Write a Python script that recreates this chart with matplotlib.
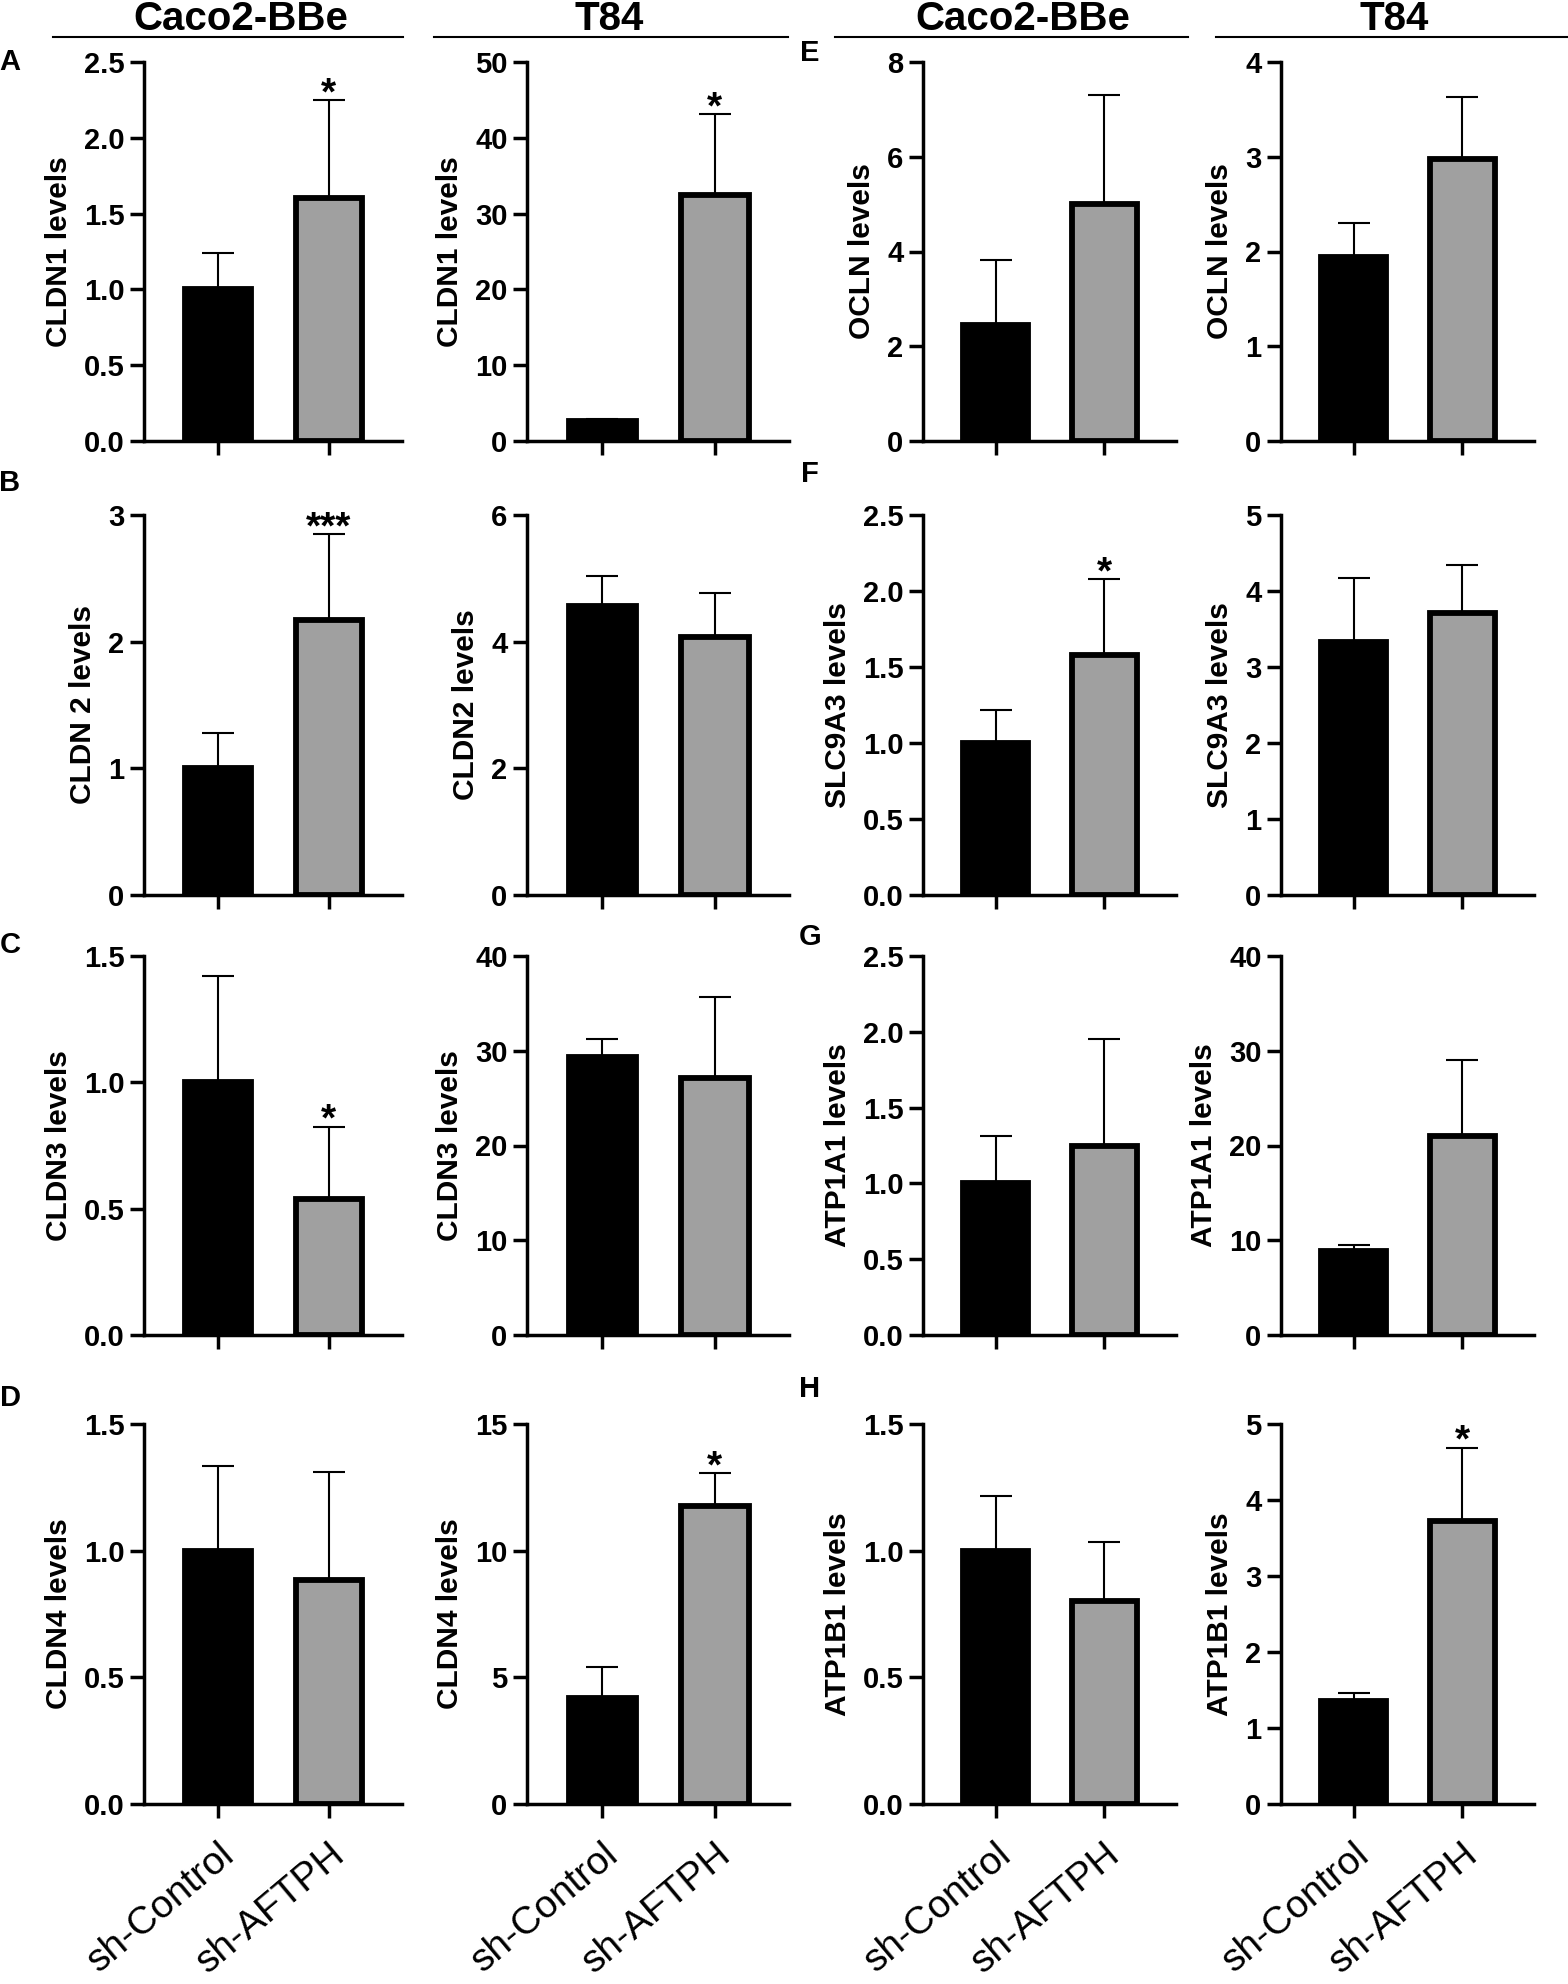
import numpy as np
import matplotlib.pyplot as plt
from matplotlib.lines import Line2D
from matplotlib.transforms import ScaledTranslation

plt.rcParams['font.family'] = ['Liberation Sans', 'DejaVu Sans']

# Группы и клеточные линии
groups = ['sh-Control', 'sh-AFTPH']
cell_lines = ['Caco2-BBe', 'T84', 'Caco2-BBe', 'T84']
panel_letters = ['A', 'B', 'C', 'D', 'E', 'F', 'G', 'H']

# Подписи осей Y (по строкам, слева направо)
ylabels = ['CLDN1 levels', 'CLDN1 levels', 'OCLN levels', 'OCLN levels',
           'CLDN 2 levels', 'CLDN2 levels', 'SLC9A3 levels', 'SLC9A3 levels',
           'CLDN3 levels', 'CLDN3 levels', 'ATP1A1 levels', 'ATP1A1 levels',
           'CLDN4 levels', 'CLDN4 levels', 'ATP1B1 levels', 'ATP1B1 levels']

# Средние значения
mean_control = [1.0, 2.7, 2.45, 1.94,
                1.0, 4.56, 1.0, 3.33,
                1.0, 29.3, 1.0, 8.9,
                1.0, 4.2, 1.0, 1.35]
mean_aftph = [1.6, 32.4, 5.0, 2.98,
              2.17, 4.07, 1.58, 3.71,
              0.54, 27.1, 1.25, 21.0,
              0.885, 11.75, 0.80, 3.73]

# Ошибки (только вверх)
err_control = [0.24, 0.2, 1.38, 0.36,
               0.28, 0.48, 0.22, 0.84,
               0.42, 1.9, 0.31, 0.55,
               0.335, 1.2, 0.215, 0.11]
err_aftph = [0.65, 10.7, 2.3, 0.65,
             0.68, 0.70, 0.50, 0.63,
             0.285, 8.6, 0.70, 8.0,
             0.425, 1.32, 0.235, 0.96]

# Шкалы
y_max = [2.5, 50, 8, 4,
         3, 6, 2.5, 5,
         1.5, 40, 2.5, 40,
         1.5, 15, 1.5, 5]
y_step = [0.5, 10, 2, 1,
          1, 2, 0.5, 1,
          0.5, 10, 0.5, 10,
          0.5, 5, 0.5, 1]

# Значимость
stars = ['*', '*', '', '',
         '***', '', '*', '',
         '*', '', '', '',
         '', '*', '', '*']

W, H = 1568, 1984
fig = plt.figure(figsize=(W / 100, H / 100), dpi=100)


def box(x0, y0, x1, y1):
    return [x0 / W, 1 - y1 / H, (x1 - x0) / W, (y1 - y0) / H]


col_left = [144, 527, 923, 1281]
col_right = [402, 789, 1176, 1534]
row_top = [62, 515, 956, 1424]
row_bottom = [441, 895, 1335, 1804]

x = np.arange(len(groups))
colors = ['black', '#a0a0a0']
shift = ScaledTranslation(9 / 72, 0, fig.dpi_scale_trans)

for i in range(16):
    r, c = divmod(i, 4)
    ax = fig.add_axes(box(col_left[c], row_top[r], col_right[c], row_bottom[r]))
    means = [mean_control[i], mean_aftph[i]]
    ax.bar(x, means, width=0.6, color=colors, edgecolor='black',
           linewidth=4.2, zorder=2)
    ax.errorbar(x, means, yerr=[[0, 0], [err_control[i], err_aftph[i]]],
                fmt='none', ecolor='black', elinewidth=1.5, capsize=11.5,
                capthick=1.5, zorder=1)
    if stars[i]:
        top = mean_aftph[i] + err_aftph[i]
        ax.annotate(stars[i], (1, top), xytext=(0, -3), textcoords='offset points',
                    ha='center', va='baseline', fontsize=28, fontweight='bold')

    ax.set_xlim(-0.67, 1.66)
    ax.set_ylim(0, y_max[i])
    ticks = np.arange(0, y_max[i] + y_step[i] / 2, y_step[i])
    fmt = '{:.1f}' if y_step[i] < 1 else '{:.0f}'
    ax.set_yticks(ticks, [fmt.format(t) for t in ticks], fontweight='bold')
    if r == 3:
        ax.set_xticks(x, groups, rotation=40, ha='right', va='top',
                      rotation_mode='anchor', fontsize=28)
        for lbl in ax.get_xticklabels():
            lbl.set_transform(lbl.get_transform() + shift)
    else:
        ax.set_xticks(x, ['', ''])
    ax.set_ylabel(ylabels[i], fontsize=21.5, fontweight='bold', labelpad=8)

    for s in ['top', 'right']:
        ax.spines[s].set_visible(False)
    for s in ['left', 'bottom']:
        ax.spines[s].set_linewidth(2.5)
    ax.tick_params(axis='y', length=10, width=2.5, labelsize=21, pad=4)
    ax.tick_params(axis='x', length=10, width=2.5, pad=13)

# Заголовки клеточных линий
head_x = [241, 609, 1023, 1394]
line_x = [(53, 403), (434, 788), (835, 1188), (1216, 1568)]
for name, hx, (lx0, lx1) in zip(cell_lines, head_x, line_x):
    fig.text(hx / W, 1 - 19 / H, name, ha='center', va='center',
             fontsize=29, fontweight='bold')
    fig.add_artist(Line2D([lx0 / W, lx1 / W], [1 - 37 / H, 1 - 37 / H],
                          color='black', linewidth=1.5))

# Буквы панелей
letter_xy = [(10, 62), (10, 483), (10, 945), (10, 1398),
             (810, 53), (810, 474), (810, 937), (810, 1389)]
for let, (lx, ly) in zip(panel_letters, letter_xy):
    fig.text(lx / W, 1 - ly / H, let, ha='center', va='center',
             fontsize=21, fontweight='bold')

fig.savefig('out.png', dpi=100)
